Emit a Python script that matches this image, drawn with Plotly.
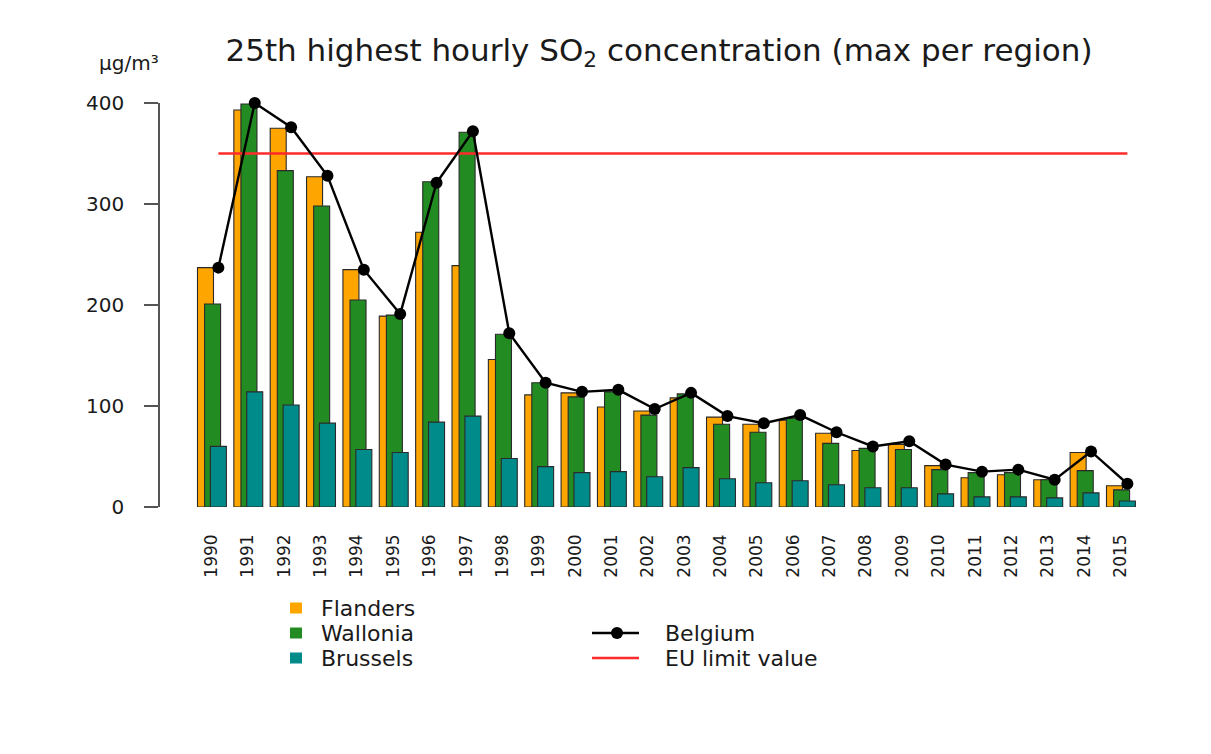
import plotly.graph_objects as go

# 25th highest hourly SO2 concentration per region, µg/m³
years = list(range(1990, 2016))
flanders = [237, 393, 375, 327, 235, 189, 272, 239, 146, 111, 113, 99, 95,
            108, 89, 82, 86, 73, 56, 62, 41, 29, 32, 27, 54, 21]
wallonia = [201, 399, 333, 298, 205, 190, 322, 371, 171, 123, 109, 114, 91,
            112, 82, 74, 88, 63, 58, 57, 37, 34, 34, 27, 36, 17]
brussels = [60, 114, 101, 83, 57, 54, 84, 90, 48, 40, 34, 35, 30,
            39, 28, 24, 26, 22, 19, 19, 13, 10, 10, 9, 14, 6]
belgium = [237, 400, 376, 328, 235, 191, 321, 372, 172, 123, 114, 116, 97,
           113, 90, 83, 91, 74, 60, 65, 42, 35, 37, 27, 55, 23]
eu_limit = 350
y_ticks = [0, 100, 200, 300, 400]

ORANGE = "#FFA500"
GREEN = "#228B22"
TEAL = "#008B8B"
RED = "#FF2A2A"
FONT = "DejaVu Sans"
TXT = "#1a1a1a"

W, H = 1211, 754
L, R, T, B = 160, 66, 103, 247
plot_w = W - L - R
plot_h = H - T - B


def px(x):
    return (x - L) / plot_w


def py(y):
    return (H - B - y) / plot_h


bar_w = 0.44
line_shift = 0.19

fig = go.Figure()
for name, vals, col, off in [("Flanders", flanders, ORANGE, -0.385),
                             ("Wallonia", wallonia, GREEN, -0.19),
                             ("Brussels", brussels, TEAL, -0.03)]:
    fig.add_trace(go.Bar(
        x=years, y=vals, name=name, width=bar_w, offset=off,
        marker=dict(color=col, line=dict(color="#2a2a2a", width=1.1)),
        showlegend=False,
    ))

fig.add_trace(go.Scatter(
    x=[y + line_shift for y in (years[0], years[-1])], y=[eu_limit, eu_limit],
    mode="lines", name="EU limit value", line=dict(color=RED, width=2.5),
    showlegend=False,
))
fig.add_trace(go.Scatter(
    x=[y + line_shift for y in years], y=belgium, mode="lines+markers",
    name="Belgium", line=dict(color="black", width=2.4),
    marker=dict(color="black", size=12), cliponaxis=False, showlegend=False,
))

fig.update_layout(
    width=W, height=H,
    margin=dict(l=L, r=R, t=T, b=B),
    paper_bgcolor="white", plot_bgcolor="white",
    barmode="overlay",
    font=dict(family=FONT, color=TXT),
    title=dict(
        text="25th highest hourly SO<sub>2</sub> concentration (max per region)",
        font=dict(family=FONT, size=31, color=TXT),
        x=659 / W, xanchor="center", xref="container",
        y=1 - 50 / H, yanchor="middle", yref="container",
    ),
    xaxis=dict(
        range=[1988.584, 1988.584 + plot_w / 36.36],
        tickmode="array", tickvals=years, ticktext=[str(y) for y in years],
        tickangle=-90, tickfont=dict(size=17, color=TXT, family=FONT),
        showline=False, showgrid=False, zeroline=False,
        ticks="", ticklabelstandoff=23,
    ),
    yaxis=dict(
        range=[0, 400], tickvals=y_ticks,
        tickfont=dict(size=20, color=TXT, family=FONT),
        showline=True, linecolor="#555555", linewidth=1.5,
        ticks="outside", ticklen=14, tickcolor="#555555", tickwidth=1.5,
        ticklabelstandoff=16,
        showgrid=False, zeroline=False,
    ),
)

annotations = [dict(
    text="µg/m³", x=px(161), y=py(63), xref="paper", yref="paper",
    xanchor="right", yanchor="middle", showarrow=False,
    font=dict(family=FONT, size=20, color=TXT),
)]
shapes = []

# legend: regional bars
for i, (name, col) in enumerate([("Flanders", ORANGE), ("Wallonia", GREEN),
                                 ("Brussels", TEAL)]):
    cy = 608 + 25 * i
    shapes.append(dict(type="rect", xref="paper", yref="paper",
                       x0=px(290), x1=px(302), y0=py(cy - 5.5), y1=py(cy + 5.5),
                       fillcolor=col, line=dict(width=0)))
    annotations.append(dict(text=name, x=px(319), y=py(cy), xref="paper",
                            yref="paper", xanchor="left", yanchor="middle",
                            showarrow=False,
                            font=dict(family=FONT, size=22, color=TXT)))

# legend: national line and limit value
shapes.append(dict(type="line", xref="paper", yref="paper",
                   x0=px(592), x1=px(639), y0=py(633), y1=py(633),
                   line=dict(color="black", width=2.4)))
shapes.append(dict(type="circle", xref="paper", yref="paper",
                   x0=px(611), x1=px(623), y0=py(627), y1=py(639),
                   fillcolor="black", line=dict(width=0)))
shapes.append(dict(type="line", xref="paper", yref="paper",
                   x0=px(592), x1=px(639), y0=py(658), y1=py(658),
                   line=dict(color=RED, width=2.5)))
for name, cy in [("Belgium", 633), ("EU limit value", 658)]:
    annotations.append(dict(text=name, x=px(663), y=py(cy), xref="paper",
                            yref="paper", xanchor="left", yanchor="middle",
                            showarrow=False,
                            font=dict(family=FONT, size=22, color=TXT)))

fig.update_layout(annotations=annotations, shapes=shapes)
fig.write_html("out.html")
